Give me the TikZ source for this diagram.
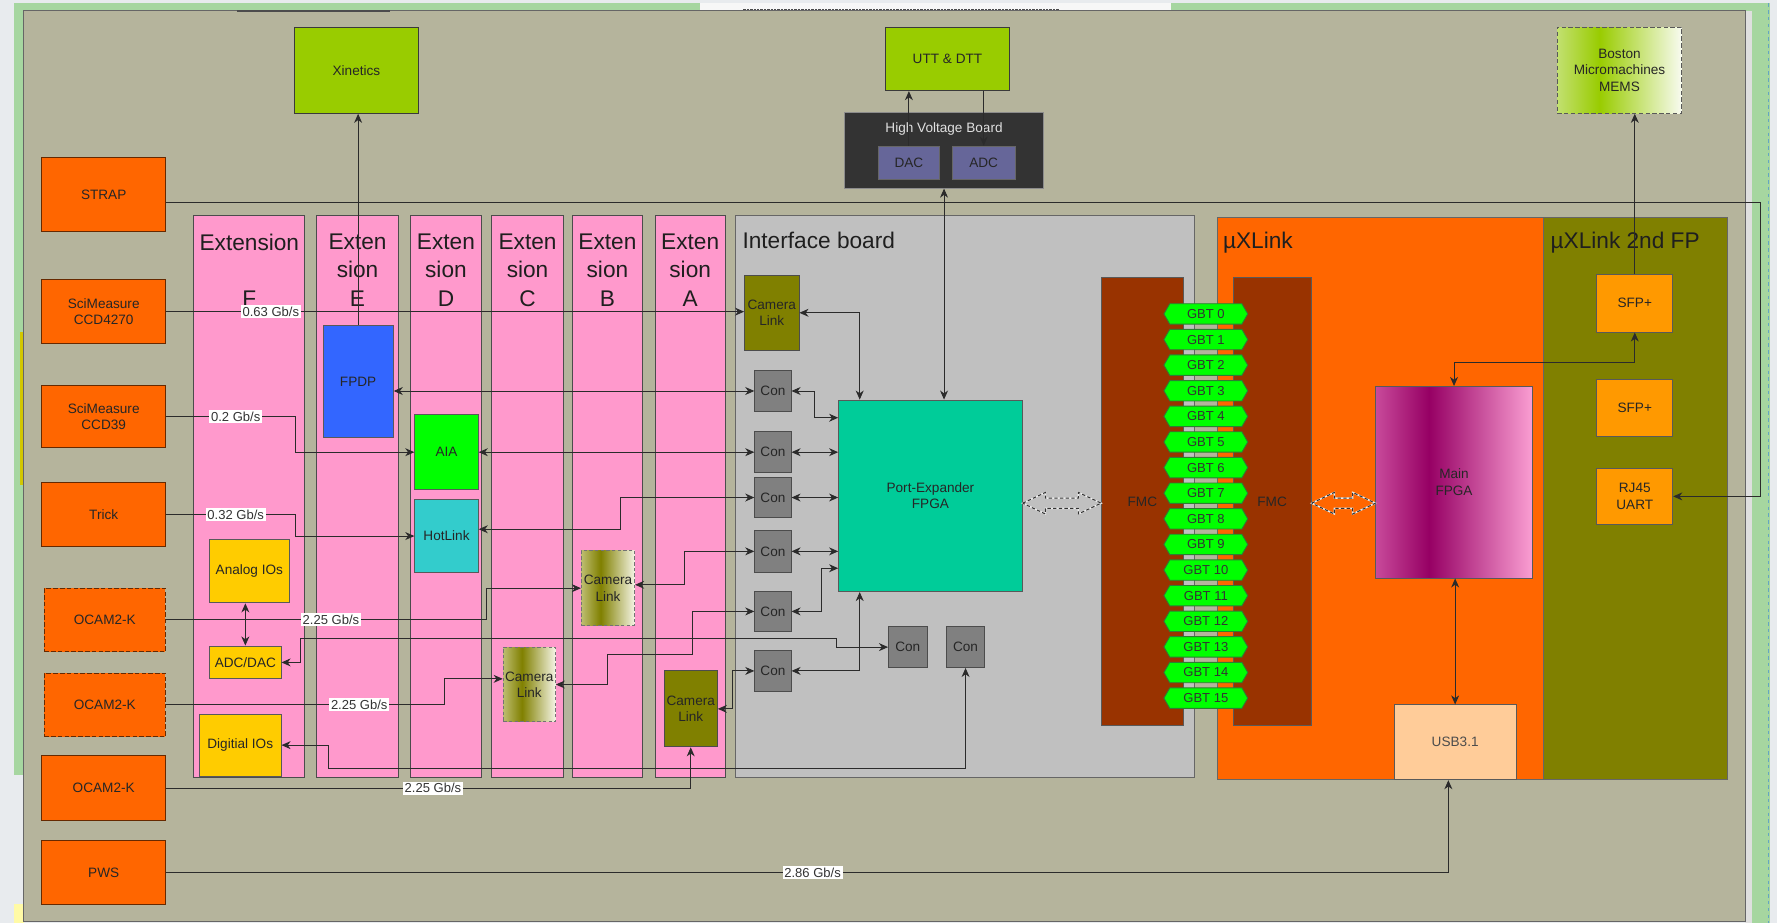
\documentclass[tikz,border=0pt]{standalone}
\usepackage{fontspec}
\setmainfont{Liberation Sans}
\usetikzlibrary{arrows.meta,calc,shapes.symbols}

\definecolor{pagebg}{HTML}{E8EBEE}
\definecolor{frameg}{HTML}{A6D6A0}
\definecolor{tanbg}{HTML}{B5B49C}
\definecolor{pinkx}{HTML}{FF99CC}
\definecolor{orx}{HTML}{FF6600}
\definecolor{olivex}{HTML}{808000}
\definecolor{ibgray}{HTML}{C0C0C0}
\definecolor{congray}{HTML}{808080}
\definecolor{fmcbrown}{HTML}{993300}
\definecolor{gbtgreen}{HTML}{00FF00}
\definecolor{gbtdraw}{HTML}{2E7D32}
\definecolor{pegreen}{HTML}{00CC99}
\definecolor{limex}{HTML}{99CC00}
\definecolor{hvdark}{HTML}{333333}
\definecolor{slatex}{HTML}{666699}
\definecolor{fpdpblue}{HTML}{3366FF}
\definecolor{hotcyan}{HTML}{33CCCC}
\definecolor{yelx}{HTML}{FFCC00}
\definecolor{sfpor}{HTML}{FF9900}
\definecolor{peach}{HTML}{FFCC99}
\definecolor{lnk}{HTML}{2B2B2B}
\definecolor{bord}{HTML}{3A3A3A}
\definecolor{mfL}{HTML}{C84A9A}
\definecolor{mfM}{HTML}{960064}
\definecolor{mfR}{HTML}{FA9ED2}
\definecolor{bmL}{HTML}{C2E070}
\definecolor{bmM}{HTML}{99CC00}
\definecolor{bmR}{HTML}{F8FBF0}
\definecolor{clL}{HTML}{BDBD70}
\definecolor{clM}{HTML}{808000}
\definecolor{clR}{HTML}{F4F4E4}

\pgfdeclarehorizontalshading{mfshade}{100bp}{color(0bp)=(mfL); color(25bp)=(mfL); color(42bp)=(mfM); color(75bp)=(mfR); color(100bp)=(mfR)}
\pgfdeclarehorizontalshading{bmshade}{100bp}{color(0bp)=(bmL); color(25bp)=(bmL); color(42bp)=(bmM); color(75bp)=(bmR); color(100bp)=(bmR)}
\pgfdeclarehorizontalshading{clshade}{100bp}{color(0bp)=(clL); color(25bp)=(clL); color(43bp)=(clM); color(75bp)=(clR); color(100bp)=(clR)}

\newcommand{\mkbox}[7]{\node[bx,#6,minimum width={(#4-#2)*1pt},minimum height={(#5-#3)*1pt}] (#1) at ({(#2+#4)/2},{(#3+#5)/2}) {#7};}
\newcommand{\hollowdbl}[2]{\draw[hollow] (#1) -- ($(#1)+(20,-9.5)$) -- ($(#1)+(20,-4.5)$) -- ($(#2)+(-20,-4.5)$) -- ($(#2)+(-20,-9.5)$) -- (#2) -- ($(#2)+(-20,9.5)$) -- ($(#2)+(-20,4.5)$) -- ($(#1)+(20,4.5)$) -- ($(#1)+(20,9.5)$) -- cycle;}

\tikzset{
  bx/.style={draw=bord, line width=0.8pt, inner sep=1pt, align=center, text=black!85,
    font=\fontsize{12}{14.5}\selectfont},
  orb/.style={fill=orx, draw=black!60!orx},
  extb/.style={fill=pinkx, draw=black!70},
  conb/.style={fill=congray, draw=black!70},
  yelb/.style={fill=yelx, draw=black!65},
  biglbl/.style={font=\fontsize{20}{25}\selectfont, inner sep=0pt, align=center, text=black!88},
  lbl/.style={fill=white, inner sep=1.5pt, text=black!80, font=\fontsize{11.5}{13}\selectfont},
  lk/.style={draw=lnk, line width=0.8pt},
  hollow/.style={preaction={draw=white!85!gray, line width=1.3pt}, draw=black!80, dash pattern=on 3pt off 2pt, line width=0.9pt},
  gbt/.style={signal, signal to=west and east, signal pointer angle=120, draw=gbtdraw, line width=0.8pt,
    fill=gbtgreen, minimum width=74pt, minimum height=18pt, inner sep=0pt, text=black!80,
    font=\fontsize{11.5}{13}\selectfont},
}

\begin{document}
\begin{tikzpicture}[x=1pt,y=-1pt,>={Stealth[length=8pt,width=7pt,inset=2.5pt]}]
\useasboundingbox (0,0) rectangle (1568,814);
% page background
\fill[pagebg] (0,0) rectangle (1568,814);
\fill[frameg] (12,3) rectangle (1562,684);
\fill[frameg] (1540,3) rectangle (1562,814);
\fill[white!94!gray] (618,3) rectangle (1033,9);
\draw[black!70, dash pattern=on 2pt off 1pt, line width=1pt] (656,8) -- (934,8);
\fill[yellow!60!olive] (18,293) rectangle (21,428);
\fill[yellow!35] (12,798) rectangle (21,814);
\fill[gray!25] (1540,10) rectangle (1546,814);
\draw[cyan!50!gray, dashed] (1560,3) -- (1560,814);

% main panel
\mkbox{main}{21}{9}{1540}{813}{fill=tanbg, draw=black!60, line width=1pt}{}
\draw[black!70, line width=2pt] (209,10) -- (344,10);

% top devices
\mkbox{xinetics}{260}{24}{369}{100}{fill=limex}{Xinetics}
\mkbox{utt}{781}{24}{891}{80}{fill=limex}{UTT \& DTT}
\mkbox{hv}{745}{99}{921}{166}{fill=hvdark, draw=black!45}{}
\node[font=\fontsize{12}{14}\selectfont, text=white!88!black, inner sep=0pt] (hvl) at (833,114) {High Voltage Board};
\mkbox{dac}{775}{129}{829}{158}{fill=slatex, draw=black!60}{DAC}
\mkbox{adc}{840}{129}{896}{158}{fill=slatex, draw=black!60}{ADC}
\mkbox{boston}{1374}{24}{1484}{100}{shade, shading=bmshade, draw=black!65, dash pattern=on 4pt off 2pt}{Boston\\Micromachines\\MEMS}

% left sources
\mkbox{strap}{37}{139}{146}{204}{orb}{STRAP}
\mkbox{sci1}{37}{247}{146}{303}{orb}{SciMeasure\\CCD4270}
\mkbox{sci2}{37}{340}{146}{395}{orb}{SciMeasure\\CCD39}
\mkbox{trick}{37}{426}{146}{482}{orb}{Trick}
\mkbox{ocam1}{39}{519}{146}{575}{orb, dash pattern=on 4pt off 2pt}{OCAM2-K}
\mkbox{ocam2}{39}{594}{146}{650}{orb, dash pattern=on 4pt off 2pt}{OCAM2-K}
\mkbox{ocam3}{37}{667}{146}{724}{orb}{OCAM2-K}
\mkbox{pws}{37}{742}{146}{798}{orb}{PWS}

% containers
\mkbox{extF}{171}{190}{269}{686}{extb}{}
\mkbox{extE}{279}{190}{352}{686}{extb}{}
\mkbox{extD}{362}{190}{425}{686}{extb}{}
\mkbox{extC}{434}{190}{497}{686}{extb}{}
\mkbox{extB}{505}{190}{567}{686}{extb}{}
\mkbox{extA}{578}{190}{640}{686}{extb}{}
\mkbox{ib}{649}{190}{1054}{686}{fill=ibgray, draw=black!60}{}
\mkbox{ux}{1074}{192}{1362}{688}{fill=orx, draw=black!60}{}
\mkbox{uxb}{1362}{192}{1524}{688}{fill=olivex, draw=black!60}{}

\node[biglbl, anchor=north] (extFl) at ($(extF.north)+(0,16.5)$) {Extension\\[25pt]F};
\node[biglbl, anchor=north] (extEl) at ($(extE.north)+(0,16.5)$) {Exten\\sion\\E};
\node[biglbl, anchor=north] (extDl) at ($(extD.north)+(0,16.5)$) {Exten\\sion\\D};
\node[biglbl, anchor=north] (extCl) at ($(extC.north)+(0,16.5)$) {Exten\\sion\\C};
\node[biglbl, anchor=north] (extBl) at ($(extB.north)+(0,16.5)$) {Exten\\sion\\B};
\node[biglbl, anchor=north] (extAl) at ($(extA.north)+(0,16.5)$) {Exten\\sion\\A};
\node[biglbl, anchor=base west] (ibl) at (655,219) {Interface board};
\node[biglbl, anchor=base west] (uxl) at (1079,219) {µXLink};
\node[biglbl, anchor=base west] (uxbl) at (1368,219) {µXLink 2nd FP};

% extension contents
\mkbox{fpdp}{285}{287}{347}{386}{fill=fpdpblue, draw=black!65}{FPDP}
\mkbox{aia}{366}{366}{422}{432}{fill=gbtgreen, draw=black!65}{AIA}
\mkbox{hot}{366}{441}{422}{505}{fill=hotcyan, draw=black!65}{HotLink}
\mkbox{analog}{185}{476}{255}{532}{yelb}{Analog IOs}
\mkbox{adcdac}{185}{570}{248}{599}{yelb}{ADC/DAC}
\mkbox{digio}{176}{630}{248}{685}{yelb}{Digitial IOs}
\mkbox{clB}{513}{486}{560}{552}{shade, shading=clshade, draw=black!55, dash pattern=on 3pt off 2pt}{Camera\\Link}
\mkbox{clC}{444}{571}{490}{637}{shade, shading=clshade, draw=black!55, dash pattern=on 3pt off 2pt}{Camera\\Link}
\mkbox{clA}{586}{592}{633}{659}{fill=olivex, draw=black!70}{Camera\\Link}

% interface board contents
\mkbox{cli}{657}{243}{705}{309}{fill=olivex, draw=black!70}{Camera\\Link}
\mkbox{con1}{666}{327}{698}{363}{conb}{Con}
\mkbox{con2}{666}{381}{698}{417}{conb}{Con}
\mkbox{con3}{666}{421}{698}{457}{conb}{Con}
\mkbox{con4}{666}{468}{698}{505}{conb}{Con}
\mkbox{con5}{666}{522}{698}{557}{conb}{Con}
\mkbox{con6}{666}{574}{698}{610}{conb}{Con}
\mkbox{con7}{784}{553}{818}{589}{conb}{Con}
\mkbox{con8}{835}{553}{869}{589}{conb}{Con}
\mkbox{pe}{740}{353}{902}{522}{fill=pegreen, draw=black!65}{Port-Expander\\FPGA}
\mkbox{fmc1}{972}{245}{1044}{640}{fill=fmcbrown, draw=black!65}{FMC}

% uXLink contents
\mkbox{fmc2}{1088}{245}{1157}{640}{fill=fmcbrown, draw=black!65}{FMC}
\mkbox{mfpga}{1214}{341}{1352}{510}{shade, shading=mfshade, draw=black!65}{Main\\FPGA}
\mkbox{usb}{1230}{622}{1338}{688}{fill=peach, draw=black!65, text=black!70}{USB3.1}
\mkbox{sfp1}{1409}{242}{1476}{293}{fill=sfpor, draw=black!65}{SFP+}
\mkbox{sfp2}{1409}{335}{1476}{385}{fill=sfpor, draw=black!65}{SFP+}
\mkbox{rj45}{1409}{413}{1476}{463}{fill=sfpor, draw=black!65}{RJ45\\UART}

% GBT tags
\foreach \i in {0,...,15} {
  \node[gbt] (gbt\i) at (1064,{277+22.6*\i}) {GBT \i};
}

% hollow double arrows
\coordinate (ha1) at ($(pe.east)+(0,6.5)$);
\coordinate (hb1) at (fmc1.west |- ha1);
\coordinate (ha2) at (fmc2.east |- ha1);
\coordinate (hb2) at (mfpga.west |- ha1);
\hollowdbl{ha1}{hb1}
\hollowdbl{ha2}{hb2}

% connectors
\draw[lk,->] (fpdp.north) -- (fpdp.north |- xinetics.south);
\draw[lk,->] (sci1.east) -- (sci1.east -| cli.west);
\draw[lk,<->] (cli.east) -| ($(pe.north west)+(19,0)$);
\draw[lk,<->] (hv.south) -- (hv.south |- pe.north);
\draw[lk,->] (dac.north) -- (dac.north |- utt.south);
\draw[lk,->] (adc.north |- utt.south) -- (adc.north);
\draw[lk,<->] (fpdp.east |- con1.west) -- (con1.west);
\draw[lk,<->] (con1.east) -- ++(20,0) |- ($(pe.north west)+(0,16)$);
\draw[lk,<->] (aia.east |- con2.west) -- (con2.west);
\draw[lk,<->] (con2.east) -- (con2.east -| pe.west);
\draw[lk,<->] ($(hot.east)+(0,-6)$) -| ($(con3.west)+(-118,0)$) -- (con3.west);
\draw[lk,<->] (con3.east) -- (con3.east -| pe.west);
\draw[lk,<->] (con4.west) -- ++(-62,0) |- ($(clB.east)+(0,-3)$);
\draw[lk,<->] (con4.east) -- (con4.east -| pe.west);
\draw[lk,<->] (con5.west) -- ++(-55,0) |- ++(-75,38) |- (clC.east);
\draw[lk,<->] (con5.east) -- ++(26,0) |- ($(pe.south west)+(0,-21)$);
\draw[lk,<->] (con6.west) -- ++(-19,0) |- (clA.east);
\draw[lk,<->] (con6.east) -| ($(pe.south west)+(19,0)$);
\draw[lk,<->] (adcdac.east) -- ++(17,0) |- ++(473,-21) |- (con7.west);
\draw[lk,<->] (digio.east) -- ++(41,0) |- ($(con8.south)+(0,89)$) -- (con8.south);
\draw[lk,->] (ocam3.east) -| (clA.south);
\draw[lk,->] (ocam1.east) -- ++(283,0) |- (clB.west);
\draw[lk,->] (ocam2.east) -- ++(246,0) |- ($(clC.west)+(0,-5)$);
\draw[lk,->] (sci2.east) -- ++(114,0) |- (aia.west);
\draw[lk,->] (trick.east) -- ++(114,0) |- (hot.west);
\draw[lk,<->] (adcdac.north) -- (adcdac.north |- analog.south);
\draw[lk,->] (pws.east) -| ($(usb.south)+(-6,0)$);
\draw[lk,<->] (usb.north) -- (usb.north |- mfpga.south);
\draw[lk,<->] (mfpga.north) -- ++(0,-21) -| (sfp1.south);
\draw[lk,->] (sfp1.north) -- (sfp1.north |- boston.south);
\draw[lk,->] ($(strap.east)+(0,7)$) -- ++(1407,0) |- (rj45.east);

% rate labels
\node[lbl] (l063) at (239,0 |- sci1.east) {0.63 Gb/s};
\node[lbl] (l02) at (208,0 |- sci2.east) {0.2 Gb/s};
\node[lbl] (l032) at (208,0 |- trick.east) {0.32 Gb/s};
\node[lbl] (l225a) at (292,0 |- ocam1.east) {2.25 Gb/s};
\node[lbl] (l225b) at (317,0 |- ocam2.east) {2.25 Gb/s};
\node[lbl] (l225c) at (382,0 |- ocam3.east) {2.25 Gb/s};
\node[lbl] (l286) at (717,0 |- pws.east) {2.86 Gb/s};
\end{tikzpicture}
\end{document}
